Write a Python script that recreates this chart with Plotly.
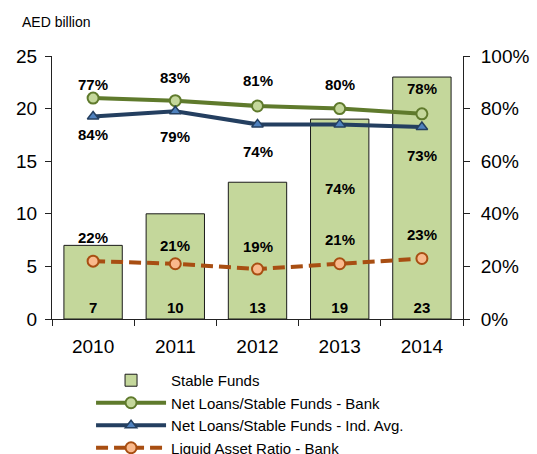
import plotly.graph_objects as go

years = ["2010", "2011", "2012", "2013", "2014"]
stable_funds = [7, 10, 13, 19, 23]
bank_ratio = [84, 83, 81, 80, 78]
ind_avg_ratio = [77, 79, 74, 74, 73]
liquid_ratio = [22, 21, 19, 21, 23]
bank_labels = ["77%", "83%", "81%", "80%", "78%"]
ind_labels = ["84%", "79%", "74%", "74%", "73%"]
liquid_labels = ["22%", "21%", "19%", "21%", "23%"]

FONT = "Liberation Sans, Arial, sans-serif"
fig = go.Figure()

fig.add_trace(go.Bar(
    x=years, y=stable_funds, name="Stable Funds",
    marker=dict(color="#C4D79B", line=dict(color="#1a1a1a", width=1)),
    text=[str(v) for v in stable_funds], textposition="inside",
    insidetextanchor="start",
    textfont=dict(family=FONT, size=15, color="black", weight="bold"),
))

fig.add_trace(go.Scatter(
    x=years, y=bank_ratio, yaxis="y2", name="Net Loans/Stable Funds - Bank",
    mode="lines+markers",
    line=dict(color="#5F7A2C", width=4),
    marker=dict(symbol="circle", size=11, color="#C4D79B", line=dict(color="#5F7A2C", width=2)),
))
fig.add_trace(go.Scatter(
    x=years, y=ind_avg_ratio, yaxis="y2", name="Net Loans/Stable Funds - Ind. Avg.",
    mode="lines+markers",
    line=dict(color="#243F60", width=4),
    marker=dict(symbol="triangle-up", size=10, color="#4F81BD", line=dict(color="#243F60", width=1.5)),
))
fig.add_trace(go.Scatter(
    x=years, y=liquid_ratio, yaxis="y2", name="Liquid Asset Ratio - Bank",
    mode="lines+markers",
    line=dict(color="#A84E12", width=4, dash="12px,6px"),
    marker=dict(symbol="circle", size=11, color="#F9B98C", line=dict(color="#A84E12", width=2)),
))

lab_font = dict(family=FONT, size=15, color="black", weight="bold")
bank_shift = [14, 23, 25, 24, 25]
ind_shift = [-18, -25, -27, -64, -28]
liq_shift = [24, 18, 23, 24, 24]
for i, y in enumerate(years):
    fig.add_annotation(x=i, y=bank_ratio[i], xref="x", yref="y2", text=bank_labels[i],
                       showarrow=False, yshift=bank_shift[i], font=lab_font)
    fig.add_annotation(x=i, y=ind_avg_ratio[i], xref="x", yref="y2", text=ind_labels[i],
                       showarrow=False, yshift=ind_shift[i], font=lab_font)
    fig.add_annotation(x=i, y=liquid_ratio[i], xref="x", yref="y2", text=liquid_labels[i],
                       showarrow=False, yshift=liq_shift[i], font=lab_font)

fig.add_annotation(xref="paper", yref="paper", x=-0.078, y=1.129, xanchor="left",
                   yanchor="middle", text="AED billion", showarrow=False,
                   font=dict(family=FONT, size=14, color="black"))

axis_common = dict(showgrid=False, zeroline=False, showline=True, linecolor="#222",
                   linewidth=1, ticks="outside", ticklen=6, tickcolor="#222",
                   tickfont=dict(family=FONT, size=19, color="black"))
fig.update_layout(
    width=537, height=454,
    margin=dict(l=52, r=74, t=56, b=135, autoexpand=False),
    paper_bgcolor="white", plot_bgcolor="white",
    bargap=0.29,
    xaxis=dict(type="category", categoryorder="array", categoryarray=years,
               range=[-0.5, len(years) - 0.5], tickson="boundaries", tickangle=0,
               automargin=False, ticklabelstandoff=10, **axis_common),
    yaxis=dict(range=[0, 25], dtick=5, automargin=False, ticklabelstandoff=4,
               **axis_common),
    yaxis2=dict(range=[0, 100], dtick=20, ticksuffix="%", overlaying="y", side="right",
                automargin=False, ticklabelstandoff=7, **axis_common),
    showlegend=True,
    legend=dict(x=0.095, y=-0.171, xanchor="left", yanchor="top", itemwidth=70,
                font=dict(family=FONT, size=15, color="black"), tracegroupgap=0,
                bgcolor="rgba(0,0,0,0)"),
)

fig.write_html("out.html")
